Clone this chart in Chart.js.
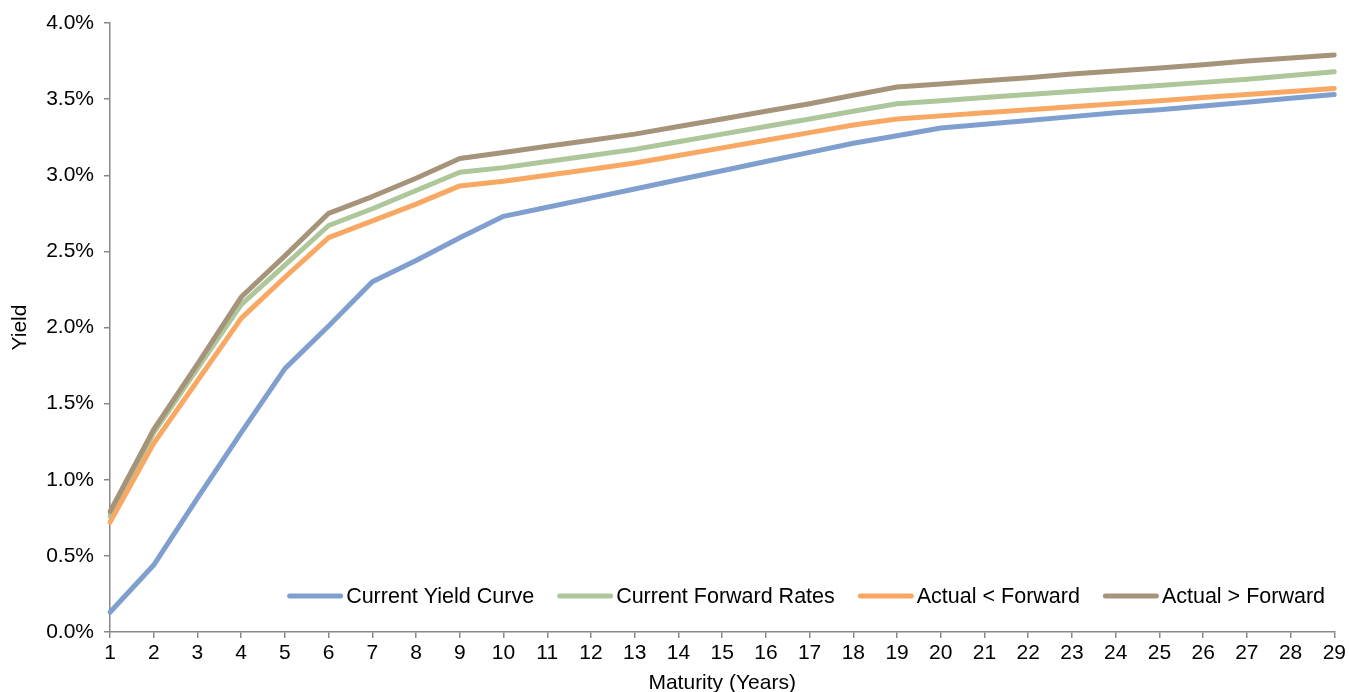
<!DOCTYPE html>
<html>
<head>
<meta charset="utf-8">
<script src="https://cdn.jsdelivr.net/npm/chart.js@4"></script>
<style>
  html, body { margin: 0; padding: 0; background: #fff; }
  #wrap { width: 1349px; height: 692px; }
</style>
</head>
<body>
<div id="wrap"><canvas id="chart"></canvas></div>
<script>
'use strict';

// ── Data (yield in %) ──
const maturities = [1, 2, 3, 4, 5, 6, 7, 8, 9, 10, 11, 12, 13, 14, 15, 16, 17, 18, 19, 20, 21, 22, 23, 24, 25, 26, 27, 28, 29];

const currentYieldCurve = [0.13, 0.44, 0.88, 1.31, 1.73, 2.01, 2.30, 2.44, 2.59, 2.73, 2.79, 2.85, 2.91, 2.97, 3.03, 3.09, 3.15, 3.21, 3.26, 3.31, 3.335, 3.36, 3.385, 3.41, 3.43, 3.455, 3.48, 3.505, 3.53];
const currentForwardRates = [0.76, 1.31, 1.73, 2.15, 2.41, 2.67, 2.78, 2.90, 3.02, 3.05, 3.09, 3.13, 3.17, 3.22, 3.27, 3.32, 3.37, 3.42, 3.47, 3.49, 3.51, 3.53, 3.55, 3.57, 3.59, 3.61, 3.63, 3.655, 3.68];
const actualBelowForward = [0.72, 1.24, 1.65, 2.06, 2.33, 2.59, 2.70, 2.81, 2.93, 2.96, 3.00, 3.04, 3.08, 3.13, 3.18, 3.23, 3.28, 3.33, 3.37, 3.39, 3.41, 3.43, 3.45, 3.47, 3.49, 3.51, 3.53, 3.55, 3.57];
const actualAboveForward = [0.79, 1.33, 1.76, 2.20, 2.47, 2.75, 2.86, 2.98, 3.11, 3.15, 3.19, 3.23, 3.27, 3.32, 3.37, 3.42, 3.47, 3.525, 3.58, 3.60, 3.62, 3.64, 3.665, 3.685, 3.705, 3.725, 3.75, 3.77, 3.79];

const seriesNames = ['Current Yield Curve', 'Current Forward Rates', 'Actual < Forward', 'Actual > Forward'];
const seriesColors = ['#7F9FCF', '#ADC69A', '#F9A864', '#A6947A'];

const FONT = 'Arial, "Liberation Sans", sans-serif';
const AXIS = '#888888';

// Legend drawn inside the plot, bottom right
const insideLegend = {
  id: 'insideLegend',
  afterDatasetsDraw(chart) {
    const c = chart.ctx;
    const right = 1325, y = 596;
    const lineW = 56, gap = 3, itemGap = 23;
    c.save();
    c.font = '21.5px ' + FONT;
    c.textBaseline = 'middle';
    const items = chart.data.datasets.map(ds => ({ label: ds.label, color: ds.borderColor, w: c.measureText(ds.label).width }));
    let total = 0;
    items.forEach((it, i) => { total += lineW + gap + it.w + (i < items.length - 1 ? itemGap : 0); });
    let x = right - total;
    for (const it of items) {
      c.strokeStyle = it.color;
      c.lineWidth = 5;
      c.lineCap = 'round';
      c.beginPath();
      c.moveTo(x + 2.5, y);
      c.lineTo(x + lineW - 2.5, y);
      c.stroke();
      c.fillStyle = '#000';
      c.fillText(it.label, x + lineW + gap, y + 1);
      x += lineW + gap + it.w + itemGap;
    }
    c.restore();
  }
};

const seriesData = [currentYieldCurve, currentForwardRates, actualBelowForward, actualAboveForward];

new Chart(document.getElementById('chart'), {
  type: 'line',
  plugins: [insideLegend],
  data: {
    labels: maturities,
    datasets: seriesData.map((d, i) => ({
      label: seriesNames[i],
      data: d,
      borderColor: seriesColors[i],
      backgroundColor: seriesColors[i],
      borderWidth: 5,
      borderCapStyle: 'round',
      borderJoinStyle: 'round',
      pointRadius: 0,
      tension: 0,
      order: 3 - i,
    }))
  },
  options: {
    responsive: true,
    maintainAspectRatio: false,
    animation: false,
    layout: { padding: { top: 23, right: 14, left: 0, bottom: 0 } },
    plugins: {
      legend: { display: false },
      tooltip: { enabled: false },
    },
    scales: {
      x: {
        type: 'category',
        offset: false,
        grid: { drawOnChartArea: false, color: AXIS, tickLength: 6, lineWidth: 1.5 },
        border: { color: AXIS, width: 1.5 },
        ticks: { color: '#000', font: { family: FONT, size: 21 }, padding: 3, maxRotation: 0, autoSkip: false },
        title: { display: true, text: 'Maturity (Years)', color: '#000', font: { family: FONT, size: 21, lineHeight: 1 }, padding: { top: 0, bottom: -2 } },
        afterFit(scale) { scale.height = 60; },
      },
      y: {
        min: 0,
        max: 4,
        grid: { drawOnChartArea: false, color: AXIS, tickLength: 6, lineWidth: 1.5 },
        border: { color: AXIS, width: 1.5 },
        ticks: {
          stepSize: 0.5,
          color: '#000',
          font: { family: FONT, size: 21 },
          padding: 10,
          callback: v => v.toFixed(1) + '%',
        },
        title: { display: true, text: 'Yield', color: '#000', font: { family: FONT, size: 21, lineHeight: 1 }, padding: { top: 10, bottom: 0 } },
        afterFit(scale) { scale.width = 110; },
      }
    }
  }
});
</script>
</body>
</html>
